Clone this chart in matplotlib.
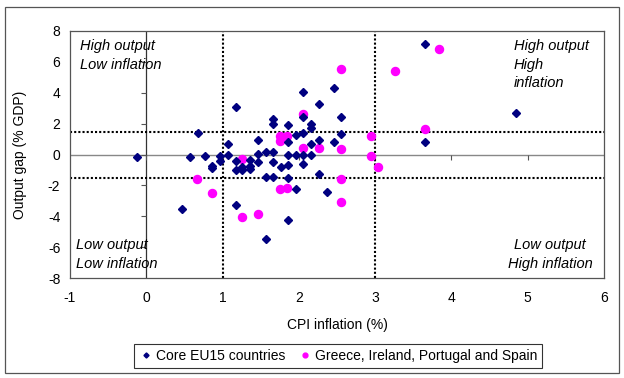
import matplotlib
matplotlib.use("Agg")
import matplotlib.pyplot as plt
from matplotlib.lines import TICKLEFT, TICKDOWN
from matplotlib.patches import Rectangle

plt.rcParams["font.family"] = ["Liberation Sans", "DejaVu Sans"]

# -------------------------------------------------
# Data
# -------------------------------------------------
core_infl = [-0.12, 0.47, 0.57, 0.68, 0.77, 0.86, 0.86, 0.96, 0.96, 1.07,
             1.07, 1.17, 1.17, 1.17, 1.17, 1.26, 1.26, 1.36, 1.36, 1.36,
             1.47, 1.47, 1.47, 1.57, 1.57, 1.57, 1.66, 1.66, 1.66, 1.66,
             1.66, 1.76, 1.86, 1.86, 1.86, 1.86, 1.86, 1.86, 1.96, 1.96,
             1.96, 2.06, 2.06, 2.06, 2.06, 2.06, 2.16, 2.16, 2.16, 2.16,
             2.26, 2.26, 2.26, 2.37, 2.46, 2.46, 2.55, 2.55, 3.66, 3.66,
             4.85]
core_gap = [-0.18, -3.54, -0.15, 1.42, -0.12, -0.72, -0.87, -0.07, -0.42, 0.69,
            -0.05, 3.08, -0.41, -1.0, -3.24, -0.84, -1.02, -0.33, -0.75, -0.97,
            0.92, 0.02, -0.46, 0.15, -1.45, -5.5, 2.33, 2.0, 0.15, -0.46,
            -1.45, -0.84, 1.94, 0.82, -0.05, -0.69, -1.49, -4.22, 1.28, -0.05,
            -2.23, 4.02, 2.4, 1.42, -0.05, -0.6, 1.98, 1.7, 0.65, -0.05,
            3.24, 0.92, -1.29, -2.44, 4.28, 0.84, 2.44, 1.33, 7.14, 0.82,
            2.72]

gips_infl = [0.66, 0.86, 1.25, 1.25, 1.46, 1.75, 1.75, 1.85, 1.75, 1.85,
             2.05, 2.05, 2.26, 2.55, 2.55, 2.55, 2.55, 2.94, 2.94, 3.04,
             3.26, 3.65, 3.84]
gips_gap = [-1.6, -2.48, -0.28, -4.06, -3.87, 1.22, 0.88, 1.19, -2.25, -2.2,
            2.63, 0.43, 0.43, 0.34, -1.6, -3.07, 5.55, 1.17, -0.08, -0.8,
            5.39, 1.68, 6.82]

x_ticks = [-1, 0, 1, 2, 3, 4, 5, 6]
y_ticks = [-8, -6, -4, -2, 0, 2, 4, 6, 8]
infl_bounds = [1, 3]
gap_bounds = [1.45, -1.55]

# -------------------------------------------------
# Figure
# -------------------------------------------------
fig = plt.figure(figsize=(6.24, 3.78), dpi=100)
ax = fig.add_axes([70 / 624, 100 / 378, 534 / 624, 247 / 378])

frame_col = "#555555"
for sp in ax.spines.values():
    sp.set_color(frame_col)
    sp.set_linewidth(0.9)

ax.set_xlim(-1, 6)
ax.set_ylim(-8, 8)
ax.set_xticks(x_ticks)
ax.set_yticks(y_ticks)
ax.set_xticklabels([str(t) for t in x_ticks])
ax.set_yticklabels([str(t) for t in y_ticks])
ax.tick_params(length=0, labelsize=10, colors="black")
ax.tick_params(axis="x", pad=9)
ax.tick_params(axis="y", pad=7)

# axes crossing at zero
ax.axhline(0, color="#888888", lw=1.0, zorder=1)
ax.axvline(0, color="#333333", lw=0.9, zorder=1)
ax.plot(x_ticks[1:-1], [0] * (len(x_ticks) - 2), linestyle="none",
        marker=TICKDOWN, markersize=3.5, color="#555555", mew=0.8, zorder=1)
ax.plot([0] * (len(y_ticks) - 2), y_ticks[1:-1], linestyle="none",
        marker=TICKLEFT, markersize=3.5, color="#555555", mew=0.8, zorder=1)

# quadrant boundaries
for xv in infl_bounds:
    ax.axvline(xv, color="black", lw=1.5, linestyle=(0, (1, 1)), zorder=2)
for yv in gap_bounds:
    ax.axhline(yv, color="black", lw=1.5, linestyle=(0, (1, 1)), zorder=2)

ax.plot(core_infl, core_gap, linestyle="none", marker="D", markersize=4.3,
        color="#000080", label="Core EU15 countries", zorder=4)
ax.plot(gips_infl, gips_gap, linestyle="none", marker="o", markersize=5.8,
        color="#FF00FF", label="Greece, Ireland, Portugal and Spain", zorder=3)

ax.set_xlabel("CPI inflation (%)", fontsize=10, labelpad=10)
ax.set_ylabel("Output gap (% GDP)", fontsize=10, labelpad=15)

qfont = dict(fontsize=10.5, style="italic", transform=ax.transAxes, zorder=5,
             linespacing=1.4)
ax.text(0.019, 0.966, "High output\nLow inflation", ha="left", va="top", **qfont)
ax.text(0.831, 0.966, "High output\nHigh\ninflation", ha="left", va="top", **qfont)
ax.text(0.011, 0.03, "Low output\nLow inflation", ha="left", va="bottom", **qfont)
ax.text(0.899, 0.03, "Low output\nHigh inflation", ha="center", va="bottom",
        multialignment="center", **qfont)

leg = fig.legend(loc="center", bbox_to_anchor=(338 / 624, 1 - 356 / 378), ncol=2,
                 fontsize=10, frameon=True, fancybox=False, markerscale=0.6,
                 handletextpad=0.15, columnspacing=0.9, handlelength=1.1,
                 borderpad=0.35, borderaxespad=0)
leg.get_frame().set_edgecolor("black")
leg.get_frame().set_linewidth(0.8)

fig.patches.append(Rectangle((5 / 624, 5 / 378), 614 / 624, 366 / 378,
                             transform=fig.transFigure, fill=False,
                             edgecolor="#555555", lw=0.9))

fig.savefig("out.png", dpi=100)
